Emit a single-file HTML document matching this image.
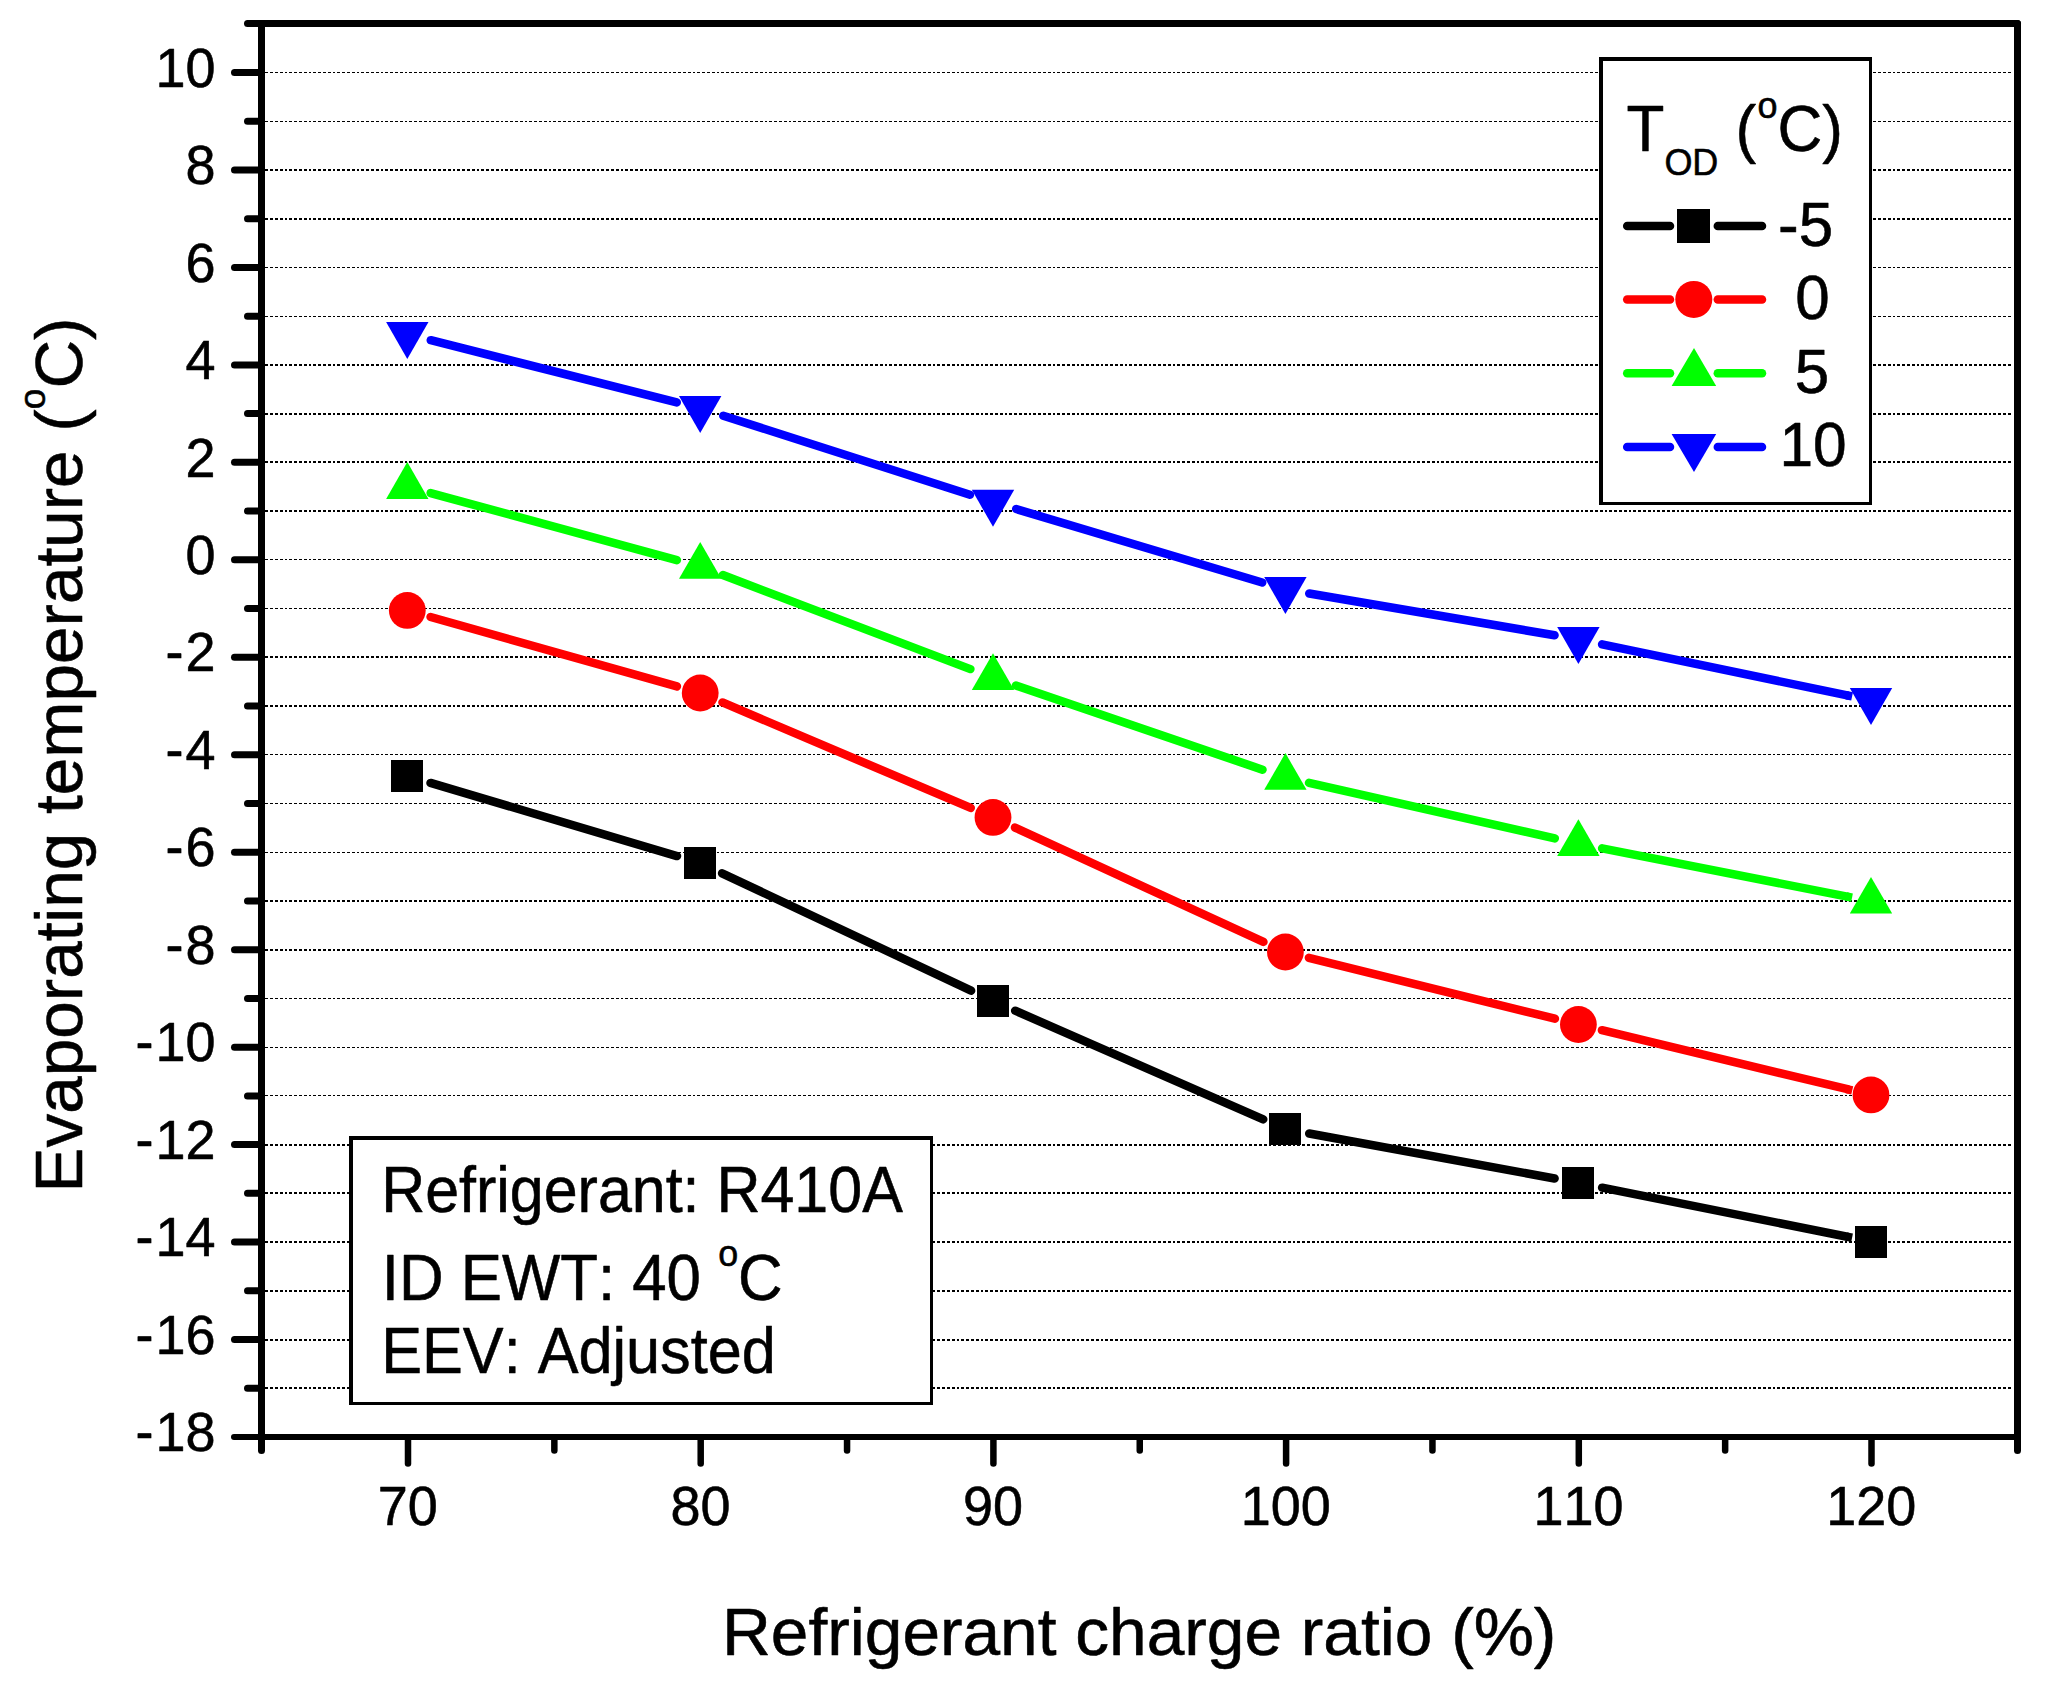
<!DOCTYPE html>
<html lang="en">
<head>
<meta charset="utf-8">
<title>Evaporating temperature vs refrigerant charge ratio</title>
<style>html,body{margin:0;padding:0;background:#fff}svg{display:block}text{font-kerning:none;font-variant-ligatures:none}</style>
</head>
<body>
<svg width="2053" height="1682" viewBox="0 0 2053 1682" font-family='"Liberation Sans", Arial, Helvetica, sans-serif' fill="#000">
<rect x="0" y="0" width="2053" height="1682" fill="#fff"/>
<g stroke="#000" fill="none" shape-rendering="crispEdges">
<line x1="265" y1="1388" x2="2012.5" y2="1388" stroke-width="2" stroke-dasharray="3 2 3 2 3 2 3 2 2 2" stroke-dashoffset="0"/>
<line x1="265" y1="1340" x2="2012.5" y2="1340" stroke-width="2" stroke-dasharray="3 2 3 2 3 2 3 2 2 2" stroke-dashoffset="0"/>
<line x1="265" y1="1291" x2="2012.5" y2="1291" stroke-width="2" stroke-dasharray="3 2 3 2 3 2 3 2 2 2" stroke-dashoffset="0"/>
<line x1="265" y1="1242" x2="2012.5" y2="1242" stroke-width="2" stroke-dasharray="3 2 3 2 3 2 3 2 2 2" stroke-dashoffset="0"/>
<line x1="265" y1="1193" x2="2012.5" y2="1193" stroke-width="2" stroke-dasharray="3 2 3 2 3 2 3 2 2 2" stroke-dashoffset="0"/>
<line x1="265" y1="1145" x2="2012.5" y2="1145" stroke-width="2" stroke-dasharray="3 2 3 2 3 2 3 2 2 2" stroke-dashoffset="0"/>
<line x1="265" y1="1095.5" x2="2012.5" y2="1095.5" stroke-width="1" stroke-dasharray="3 2 3 2 3 2 3 2 2 2" stroke-dashoffset="0"/>
<line x1="265" y1="1047.5" x2="2012.5" y2="1047.5" stroke-width="1" stroke-dasharray="3 2 3 2 3 2 3 2 2 2" stroke-dashoffset="0"/>
<line x1="265" y1="998.5" x2="2012.5" y2="998.5" stroke-width="1" stroke-dasharray="3 2 3 2 3 2 3 2 2 2" stroke-dashoffset="0"/>
<line x1="265" y1="950" x2="2012.5" y2="950" stroke-width="2" stroke-dasharray="3 2 3 2 3 2 3 2 2 2" stroke-dashoffset="0"/>
<line x1="265" y1="901" x2="2012.5" y2="901" stroke-width="2" stroke-dasharray="3 2 3 2 3 2 3 2 2 2" stroke-dashoffset="0"/>
<line x1="265" y1="852.5" x2="2012.5" y2="852.5" stroke-width="1" stroke-dasharray="3 2 3 2 3 2 3 2 2 2" stroke-dashoffset="0"/>
<line x1="265" y1="803.5" x2="2012.5" y2="803.5" stroke-width="1" stroke-dasharray="3 2 3 2 3 2 3 2 2 2" stroke-dashoffset="0"/>
<line x1="265" y1="754.5" x2="2012.5" y2="754.5" stroke-width="1" stroke-dasharray="3 2 3 2 3 2 3 2 2 2" stroke-dashoffset="0"/>
<line x1="265" y1="706" x2="2012.5" y2="706" stroke-width="2" stroke-dasharray="3 2 3 2 3 2 3 2 2 2" stroke-dashoffset="0"/>
<line x1="265" y1="657" x2="2012.5" y2="657" stroke-width="2" stroke-dasharray="3 2 3 2 3 2 3 2 2 2" stroke-dashoffset="0"/>
<line x1="265" y1="608.5" x2="2012.5" y2="608.5" stroke-width="1" stroke-dasharray="3 2 3 2 3 2 3 2 2 2" stroke-dashoffset="0"/>
<line x1="265" y1="559.5" x2="2012.5" y2="559.5" stroke-width="1" stroke-dasharray="3 2 3 2 3 2 3 2 2 2" stroke-dashoffset="0"/>
<line x1="265" y1="511" x2="2012.5" y2="511" stroke-width="2" stroke-dasharray="3 2 3 2 3 2 3 2 2 2" stroke-dashoffset="0"/>
<line x1="265" y1="462" x2="2012.5" y2="462" stroke-width="2" stroke-dasharray="3 2 3 2 3 2 3 2 2 2" stroke-dashoffset="0"/>
<line x1="265" y1="414" x2="2012.5" y2="414" stroke-width="2" stroke-dasharray="3 2 3 2 3 2 3 2 2 2" stroke-dashoffset="0"/>
<line x1="265" y1="365" x2="2012.5" y2="365" stroke-width="2" stroke-dasharray="3 2 3 2 3 2 3 2 2 2" stroke-dashoffset="0"/>
<line x1="265" y1="316.5" x2="2012.5" y2="316.5" stroke-width="1" stroke-dasharray="3 2 3 2 3 2 3 2 2 2" stroke-dashoffset="0"/>
<line x1="265" y1="267.5" x2="2012.5" y2="267.5" stroke-width="1" stroke-dasharray="3 2 3 2 3 2 3 2 2 2" stroke-dashoffset="0"/>
<line x1="265" y1="219" x2="2012.5" y2="219" stroke-width="2" stroke-dasharray="3 2 3 2 3 2 3 2 2 2" stroke-dashoffset="0"/>
<line x1="265" y1="170" x2="2012.5" y2="170" stroke-width="2" stroke-dasharray="3 2 3 2 3 2 3 2 2 2" stroke-dashoffset="0"/>
<line x1="265" y1="121.5" x2="2012.5" y2="121.5" stroke-width="1" stroke-dasharray="3 2 3 2 3 2 3 2 2 2" stroke-dashoffset="0"/>
<line x1="265" y1="72.5" x2="2012.5" y2="72.5" stroke-width="1" stroke-dasharray="3 2 3 2 3 2 3 2 2 2" stroke-dashoffset="0"/>
</g>
<g stroke="#000" stroke-width="8.5" stroke-linecap="round" fill="none">
<line x1="430.50" y1="782.89" x2="677.00" y2="856.11"/>
<line x1="722.09" y1="873.32" x2="971.11" y2="990.68"/>
<line x1="1015.17" y1="1010.71" x2="1263.23" y2="1119.39"/>
<line x1="1309.20" y1="1133.47" x2="1554.60" y2="1178.53"/>
<path d="M1602.13 1187.65L1847.27 1236.75" />
<line x1="1846.29" y1="1236.55" x2="1852.08" y2="1237.71" stroke-linecap="butt"/>
</g>
<g fill="#000">
<rect x="391" y="760" width="32" height="32"/>
<rect x="684" y="847" width="32" height="32"/>
<rect x="977" y="985" width="32" height="32"/>
<rect x="1269" y="1113" width="32" height="32"/>
<rect x="1562" y="1167" width="32" height="32"/>
<rect x="1855" y="1226" width="32" height="32"/>
</g>
<g stroke="#f00" stroke-width="8.5" stroke-linecap="round" fill="none">
<line x1="430.59" y1="616.97" x2="676.91" y2="686.43"/>
<line x1="722.47" y1="702.46" x2="970.73" y2="807.94"/>
<line x1="1014.98" y1="827.52" x2="1263.42" y2="941.88"/>
<line x1="1308.89" y1="957.81" x2="1554.91" y2="1018.69"/>
<path d="M1601.93 1030.16L1847.47 1089.24" />
<line x1="1846.50" y1="1089.01" x2="1852.24" y2="1090.39" stroke-linecap="butt"/>
</g>
<g fill="#f00">
<circle cx="407.3" cy="610.4" r="18.4"/>
<circle cx="700.2" cy="693.0" r="18.4"/>
<circle cx="993.0" cy="817.4" r="18.4"/>
<circle cx="1285.4" cy="952.0" r="18.4"/>
<circle cx="1578.4" cy="1024.5" r="18.4"/>
<circle cx="1871.0" cy="1094.9" r="18.4"/>
</g>
<g stroke="#0f0" stroke-width="8.5" stroke-linecap="round" fill="none">
<line x1="430.65" y1="493.06" x2="676.85" y2="560.14"/>
<line x1="722.82" y1="575.09" x2="970.38" y2="669.11"/>
<line x1="1015.90" y1="685.52" x2="1262.50" y2="769.68"/>
<line x1="1309.01" y1="782.83" x2="1554.79" y2="838.37"/>
<path d="M1602.14 848.38L1847.26 896.69" />
<line x1="1846.28" y1="896.49" x2="1852.06" y2="897.63" stroke-linecap="butt"/>
</g>
<g fill="#0f0">
<polygon points="407.3,461.9 428.5,499.1 386.1,499.1"/>
<polygon points="700.2,541.9 721.4,578.8 679.0,578.8"/>
<polygon points="993.0,653.3 1014.2,689.9 971.8,689.9"/>
<polygon points="1285.4,753.1 1306.6,789.7 1264.2,789.7"/>
<polygon points="1578.4,819.3 1599.6,855.9 1557.2,855.9"/>
<polygon points="1871.0,876.9 1892.2,913.6 1849.8,913.6"/>
</g>
<g stroke="#00f" stroke-width="8.5" stroke-linecap="round" fill="none">
<line x1="430.76" y1="340.23" x2="676.74" y2="402.37"/>
<line x1="723.25" y1="415.69" x2="969.95" y2="494.75"/>
<line x1="1016.19" y1="509.05" x2="1262.21" y2="582.45"/>
<line x1="1309.26" y1="593.44" x2="1554.54" y2="635.30"/>
<path d="M1602.09 644.31L1847.31 695.43" />
<line x1="1846.33" y1="695.22" x2="1852.11" y2="696.43" stroke-linecap="butt"/>
</g>
<g fill="#00f">
<polygon points="386.1,321.9 428.5,321.9 407.3,359.1"/>
<polygon points="679.0,396.0 721.4,396.0 700.2,432.9"/>
<polygon points="971.8,489.8 1014.2,489.8 993.0,526.8"/>
<polygon points="1264.2,577.1 1306.6,577.1 1285.4,613.9"/>
<polygon points="1557.2,627.1 1599.6,627.1 1578.4,663.9"/>
<polygon points="1849.8,688.1 1892.2,688.1 1871.0,724.9"/>
</g>
<g stroke="#000" stroke-linecap="round" fill="none">
<line x1="247.5" y1="1388.27" x2="261.5" y2="1388.27" stroke-width="7"/>
<line x1="234.5" y1="1339.54" x2="261.5" y2="1339.54" stroke-width="7"/>
<line x1="247.5" y1="1290.80" x2="261.5" y2="1290.80" stroke-width="7"/>
<line x1="234.5" y1="1242.07" x2="261.5" y2="1242.07" stroke-width="7"/>
<line x1="247.5" y1="1193.34" x2="261.5" y2="1193.34" stroke-width="7"/>
<line x1="234.5" y1="1144.61" x2="261.5" y2="1144.61" stroke-width="7"/>
<line x1="247.5" y1="1095.88" x2="261.5" y2="1095.88" stroke-width="7"/>
<line x1="234.5" y1="1047.14" x2="261.5" y2="1047.14" stroke-width="7"/>
<line x1="247.5" y1="998.41" x2="261.5" y2="998.41" stroke-width="7"/>
<line x1="234.5" y1="949.68" x2="261.5" y2="949.68" stroke-width="7"/>
<line x1="247.5" y1="900.95" x2="261.5" y2="900.95" stroke-width="7"/>
<line x1="234.5" y1="852.21" x2="261.5" y2="852.21" stroke-width="7"/>
<line x1="247.5" y1="803.48" x2="261.5" y2="803.48" stroke-width="7"/>
<line x1="234.5" y1="754.75" x2="261.5" y2="754.75" stroke-width="7"/>
<line x1="247.5" y1="706.02" x2="261.5" y2="706.02" stroke-width="7"/>
<line x1="234.5" y1="657.29" x2="261.5" y2="657.29" stroke-width="7"/>
<line x1="247.5" y1="608.55" x2="261.5" y2="608.55" stroke-width="7"/>
<line x1="234.5" y1="559.82" x2="261.5" y2="559.82" stroke-width="7"/>
<line x1="247.5" y1="511.09" x2="261.5" y2="511.09" stroke-width="7"/>
<line x1="234.5" y1="462.36" x2="261.5" y2="462.36" stroke-width="7"/>
<line x1="247.5" y1="413.62" x2="261.5" y2="413.62" stroke-width="7"/>
<line x1="234.5" y1="364.89" x2="261.5" y2="364.89" stroke-width="7"/>
<line x1="247.5" y1="316.16" x2="261.5" y2="316.16" stroke-width="7"/>
<line x1="234.5" y1="267.43" x2="261.5" y2="267.43" stroke-width="7"/>
<line x1="247.5" y1="218.70" x2="261.5" y2="218.70" stroke-width="7"/>
<line x1="234.5" y1="169.96" x2="261.5" y2="169.96" stroke-width="7"/>
<line x1="247.5" y1="121.23" x2="261.5" y2="121.23" stroke-width="7"/>
<line x1="234.5" y1="72.50" x2="261.5" y2="72.50" stroke-width="7"/>
<line x1="408.00" y1="1438.5" x2="408.00" y2="1463.5" stroke-width="6.5"/>
<line x1="554.35" y1="1438.5" x2="554.35" y2="1450.5" stroke-width="6.5"/>
<line x1="700.70" y1="1438.5" x2="700.70" y2="1463.5" stroke-width="6.5"/>
<line x1="847.05" y1="1438.5" x2="847.05" y2="1450.5" stroke-width="6.5"/>
<line x1="993.40" y1="1438.5" x2="993.40" y2="1463.5" stroke-width="6.5"/>
<line x1="1139.75" y1="1438.5" x2="1139.75" y2="1450.5" stroke-width="6.5"/>
<line x1="1286.10" y1="1438.5" x2="1286.10" y2="1463.5" stroke-width="6.5"/>
<line x1="1432.45" y1="1438.5" x2="1432.45" y2="1450.5" stroke-width="6.5"/>
<line x1="1578.80" y1="1438.5" x2="1578.80" y2="1463.5" stroke-width="6.5"/>
<line x1="1725.15" y1="1438.5" x2="1725.15" y2="1450.5" stroke-width="6.5"/>
<line x1="1871.50" y1="1438.5" x2="1871.50" y2="1463.5" stroke-width="6.5"/>
<line x1="247.5" y1="23.5" x2="2017.5" y2="23.5" stroke-width="7"/>
<line x1="234" y1="1437.0" x2="2017.5" y2="1437.0" stroke-width="6"/>
<line x1="261.5" y1="23.5" x2="261.5" y2="1450.5" stroke-width="7"/>
<line x1="2017.5" y1="23.5" x2="2017.5" y2="1450.5" stroke-width="7"/>
</g>
<text transform="translate(215.50 1451.20) scale(1.0 1.025)" font-size="54" text-anchor="end" stroke="#000" stroke-width="0.55" stroke-linejoin="round">-<tspan dx="2">18</tspan></text>
<text transform="translate(215.50 1353.74) scale(1.0 1.025)" font-size="54" text-anchor="end" stroke="#000" stroke-width="0.55" stroke-linejoin="round">-<tspan dx="2">16</tspan></text>
<text transform="translate(215.50 1256.27) scale(1.0 1.025)" font-size="54" text-anchor="end" stroke="#000" stroke-width="0.55" stroke-linejoin="round">-<tspan dx="2">14</tspan></text>
<text transform="translate(215.50 1158.81) scale(1.0 1.025)" font-size="54" text-anchor="end" stroke="#000" stroke-width="0.55" stroke-linejoin="round">-<tspan dx="2">12</tspan></text>
<text transform="translate(215.50 1061.34) scale(1.0 1.025)" font-size="54" text-anchor="end" stroke="#000" stroke-width="0.55" stroke-linejoin="round">-<tspan dx="2">10</tspan></text>
<text transform="translate(215.50 963.88) scale(1.0 1.025)" font-size="54" text-anchor="end" stroke="#000" stroke-width="0.55" stroke-linejoin="round">-<tspan dx="2">8</tspan></text>
<text transform="translate(215.50 866.41) scale(1.0 1.025)" font-size="54" text-anchor="end" stroke="#000" stroke-width="0.55" stroke-linejoin="round">-<tspan dx="2">6</tspan></text>
<text transform="translate(215.50 768.95) scale(1.0 1.025)" font-size="54" text-anchor="end" stroke="#000" stroke-width="0.55" stroke-linejoin="round">-<tspan dx="2">4</tspan></text>
<text transform="translate(215.50 671.49) scale(1.0 1.025)" font-size="54" text-anchor="end" stroke="#000" stroke-width="0.55" stroke-linejoin="round">-<tspan dx="2">2</tspan></text>
<text transform="translate(215.50 574.02) scale(1.0 1.025)" font-size="54" text-anchor="end" stroke="#000" stroke-width="0.55" stroke-linejoin="round">0</text>
<text transform="translate(215.50 476.56) scale(1.0 1.025)" font-size="54" text-anchor="end" stroke="#000" stroke-width="0.55" stroke-linejoin="round">2</text>
<text transform="translate(215.50 379.09) scale(1.0 1.025)" font-size="54" text-anchor="end" stroke="#000" stroke-width="0.55" stroke-linejoin="round">4</text>
<text transform="translate(215.50 281.63) scale(1.0 1.025)" font-size="54" text-anchor="end" stroke="#000" stroke-width="0.55" stroke-linejoin="round">6</text>
<text transform="translate(215.50 184.16) scale(1.0 1.025)" font-size="54" text-anchor="end" stroke="#000" stroke-width="0.55" stroke-linejoin="round">8</text>
<text transform="translate(215.50 86.70) scale(1.0 1.025)" font-size="54" text-anchor="end" stroke="#000" stroke-width="0.55" stroke-linejoin="round">10</text>
<text transform="translate(407.70 1525.00) scale(1.0 1.025)" font-size="54" text-anchor="middle" stroke="#000" stroke-width="0.55" stroke-linejoin="round">70</text>
<text transform="translate(700.40 1525.00) scale(1.0 1.025)" font-size="54" text-anchor="middle" stroke="#000" stroke-width="0.55" stroke-linejoin="round">80</text>
<text transform="translate(993.10 1525.00) scale(1.0 1.025)" font-size="54" text-anchor="middle" stroke="#000" stroke-width="0.55" stroke-linejoin="round">90</text>
<text transform="translate(1285.80 1525.00) scale(1.0 1.025)" font-size="54" text-anchor="middle" stroke="#000" stroke-width="0.55" stroke-linejoin="round">100</text>
<text transform="translate(1578.50 1525.00) scale(1.0 1.025)" font-size="54" text-anchor="middle" stroke="#000" stroke-width="0.55" stroke-linejoin="round">110</text>
<text transform="translate(1871.20 1525.00) scale(1.0 1.025)" font-size="54" text-anchor="middle" stroke="#000" stroke-width="0.55" stroke-linejoin="round">120</text>
<text transform="translate(722.00 1655.00) scale(1.005 1.0)" font-size="67.3" stroke="#000" stroke-width="0.55" stroke-linejoin="round">Refrigerant charge ratio (%)</text>
<text transform="translate(82.00 1192.50) rotate(-90) scale(1.002 1.0)" font-size="67.3" stroke="#000" stroke-width="0.55" stroke-linejoin="round">Evaporating temperature (<tspan font-size="37" dy="-37.5">o</tspan><tspan dy="37.5">C)</tspan></text>
<path d="M1599 57H1872V505H1599Z M1603 61V502H1869V61Z" fill="#000" fill-rule="evenodd"/>
<rect x="1603" y="61" width="266" height="441" fill="#fff"/>
<text transform="translate(1626.50 151.00) scale(1.0 1.04)" font-size="62" stroke="#000" stroke-width="0.55" stroke-linejoin="round">T<tspan font-size="36" dy="22.6">OD</tspan><tspan dy="-22.6"> (</tspan><tspan font-size="36" dy="-32.2" dx="1.3">o</tspan><tspan dy="32.2">C)</tspan></text>
<g stroke-linecap="round" stroke-width="8.5" fill="none">
<line x1="1627.2" y1="226.0" x2="1670.0" y2="226.0" stroke="#000"/>
<line x1="1717.8" y1="226.0" x2="1762.0" y2="226.0" stroke="#000"/>
<line x1="1627.2" y1="299.5" x2="1670.0" y2="299.5" stroke="#f00"/>
<line x1="1717.8" y1="299.5" x2="1762.0" y2="299.5" stroke="#f00"/>
<line x1="1627.2" y1="373.2" x2="1670.0" y2="373.2" stroke="#0f0"/>
<line x1="1717.8" y1="373.2" x2="1762.0" y2="373.2" stroke="#0f0"/>
<line x1="1627.2" y1="447.0" x2="1670.0" y2="447.0" stroke="#00f"/>
<line x1="1717.8" y1="447.0" x2="1762.0" y2="447.0" stroke="#00f"/>
</g>
<rect x="1677" y="209" width="33" height="34" fill="#000"/>
<circle cx="1693.8" cy="299.4" r="18.5" fill="#f00"/>
<polygon points="1694,347.9 1716.2,386 1671.6,386" fill="#0f0"/>
<polygon points="1671.6,434 1716.2,434 1694,472" fill="#00f"/>
<text transform="translate(1778.00 246.40) scale(1.0 1.025)" font-size="62" stroke="#000" stroke-width="0.55" stroke-linejoin="round">-5</text>
<text transform="translate(1795.20 319.40) scale(1.0 1.025)" font-size="62" stroke="#000" stroke-width="0.55" stroke-linejoin="round">0</text>
<text transform="translate(1794.80 393.40) scale(1.0 1.025)" font-size="62" stroke="#000" stroke-width="0.55" stroke-linejoin="round">5</text>
<text transform="translate(1779.50 466.40) scale(0.975 1.025)" font-size="62" stroke="#000" stroke-width="0.55" stroke-linejoin="round">10</text>
<path d="M349 1136H933V1405H349Z M353 1140V1402H930V1140Z" fill="#000" fill-rule="evenodd"/>
<rect x="353" y="1140" width="577" height="262" fill="#fff"/>
<text transform="translate(381.20 1211.60) scale(0.983 1.03)" font-size="62" stroke="#000" stroke-width="0.55" stroke-linejoin="round">Refrigerant: R410A</text>
<text transform="translate(381.80 1299.70) scale(0.9965 1.04)" font-size="62" stroke="#000" stroke-width="0.55" stroke-linejoin="round">ID EWT: 40 <tspan font-size="36" dy="-32.2">o</tspan><tspan dy="32.2">C</tspan></text>
<text transform="translate(381.20 1372.80) scale(0.987 1.03)" font-size="62" stroke="#000" stroke-width="0.55" stroke-linejoin="round">EEV: Adjusted</text>
</svg>
</body>
</html>
